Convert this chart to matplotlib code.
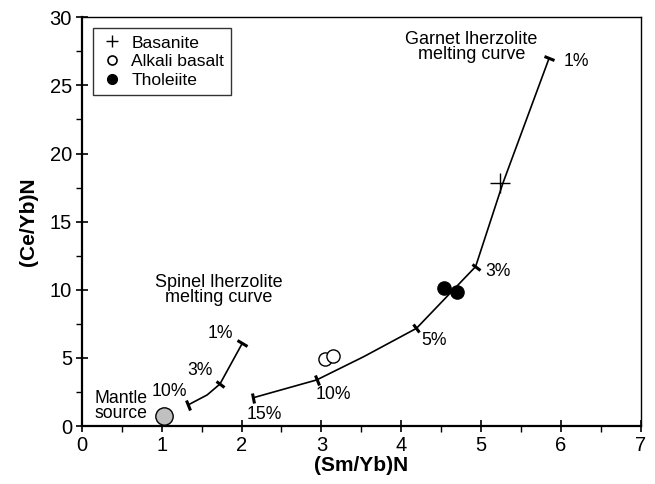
import matplotlib
matplotlib.use("Agg")
import matplotlib.pyplot as plt
import numpy as np
from matplotlib.lines import Line2D
from matplotlib.markers import MarkerStyle
from matplotlib.transforms import Affine2D

plt.rcParams['font.family'] = ['Liberation Sans', 'DejaVu Sans']

# ---- data ----
garnet_x = [2.15, 2.94, 3.53, 4.19, 4.93, 5.27, 5.85]
garnet_y = [2.08, 3.38, 5.09, 7.17, 11.7, 17.8, 27.0]
garnet_tick_idx = [0, 1, 3, 4, 6]
garnet_tick_labels = ["15%", "10%", "5%", "3%", "1%"]
garnet_label_x = [2.06, 2.93, 4.25, 5.05, 6.03]
garnet_label_y = [0.81, 2.28, 6.31, 11.33, 26.75]

spinel_x = [1.33, 1.57, 1.73, 2.01]
spinel_y = [1.54, 2.28, 3.08, 6.07]
spinel_tick_idx = [0, 2, 3]
spinel_tick_labels = ["10%", "3%", "1%"]
spinel_label_x = [1.32, 1.64, 1.90]
spinel_label_y = [2.52, 4.11, 6.80]

basanite_x = [5.23]
basanite_y = [17.85]
alkali_x = [3.04, 3.15]
alkali_y = [4.92, 5.14]
tholeiite_x = [4.53, 4.70]
tholeiite_y = [10.1, 9.8]
mantle_x = [1.03]
mantle_y = [0.76]

xticks = [0, 1, 2, 3, 4, 5, 6, 7]
yticks = [0, 5, 10, 15, 20, 25, 30]

fig = plt.figure(figsize=(6.55, 4.84), dpi=100)
ax = fig.add_axes([81.7/655, 1 - 426/484, (641 - 81.7)/655, (426 - 17.3)/484])
ax.set_xlim(0, 7)
ax.set_ylim(0, 30)

ax.set_xticks(xticks)
ax.set_yticks(yticks)
ax.set_xticks(np.arange(0, 7.01, 0.5), minor=True)
ax.set_yticks(np.arange(0, 30.01, 2.5), minor=True)
ax.tick_params(which='major', direction='inout', length=8, width=1.2, labelsize=14.5, pad=3)
ax.tick_params(which='minor', direction='out', length=4, width=1.0)
ax.spines['left'].set_linewidth(1.6)
ax.spines['bottom'].set_linewidth(1.6)
ax.spines['top'].set_linewidth(1.0)
ax.spines['right'].set_linewidth(1.0)

ax.set_xlabel("(Sm/Yb)N", fontsize=15, fontweight='bold', labelpad=1)
ax.set_ylabel("(Ce/Yb)N", fontsize=15, fontweight='bold', labelpad=8)

def draw_curve(xs, ys, idx):
    ax.plot(xs, ys, color='black', lw=1.2, zorder=2)
    pts = ax.transData.transform(np.column_stack([xs, ys]))
    n = len(xs)
    for i in idx:
        a = pts[max(i - 1, 0)]
        b = pts[min(i + 1, n - 1)]
        ang = np.degrees(np.arctan2(b[1] - a[1], b[0] - a[0]))
        m = MarkerStyle('|', transform=Affine2D().rotate_deg(ang))
        ax.plot([xs[i]], [ys[i]], marker=m, ms=7.5, mew=2.2, color='black', zorder=3)

draw_curve(garnet_x, garnet_y, garnet_tick_idx)
draw_curve(spinel_x, spinel_y, spinel_tick_idx)

for t, lx, ly in zip(garnet_tick_labels, garnet_label_x, garnet_label_y):
    ax.text(lx, ly, t, fontsize=12.7, ha='left', va='center')
for t, lx, ly in zip(spinel_tick_labels, spinel_label_x, spinel_label_y):
    ax.text(lx, ly, t, fontsize=12.7, ha='right', va='center')

ax.text(4.88, 27.8, "Garnet lherzolite\nmelting curve", fontsize=13, ha='center', va='center', linespacing=0.85)
ax.text(1.71, 9.99, "Spinel lherzolite\nmelting curve", fontsize=13, ha='center', va='center', linespacing=0.85)
ax.text(0.82, 1.47, "Mantle\nsource", fontsize=12.7, ha='right', va='center', linespacing=0.8)

ax.plot(basanite_x, basanite_y, ls='none', marker='+', ms=14, mew=1.0, color='black', zorder=4)
ax.plot(alkali_x, alkali_y, ls='none', marker='o', ms=9.5, mfc='white', mec='black', mew=1.0, zorder=4)
ax.plot(tholeiite_x, tholeiite_y, ls='none', marker='o', ms=9.5, mfc='black', mec='black', zorder=4)
ax.plot(mantle_x, mantle_y, ls='none', marker='o', ms=12.5, mfc='#c0c0c0', mec='black', mew=1.0, zorder=4)

handles = [
    Line2D([], [], ls='none', marker='+', ms=9, mew=1.0, color='black'),
    Line2D([], [], ls='none', marker='o', ms=6.5, mfc='white', mec='black', mew=1.2),
    Line2D([], [], ls='none', marker='o', ms=7, mfc='black', mec='black'),
]
leg = ax.legend(handles, ["Basanite", "Alkali basalt", "Tholeiite"], loc='upper left',
                bbox_to_anchor=(0.020, 0.973), fontsize=12.6, frameon=True, fancybox=False,
                edgecolor='black', handlelength=1.4, handletextpad=0.4, borderpad=0.4,
                labelspacing=0.2, borderaxespad=0)
leg.get_frame().set_linewidth(1.0)

fig.savefig("out.png", dpi=100)
